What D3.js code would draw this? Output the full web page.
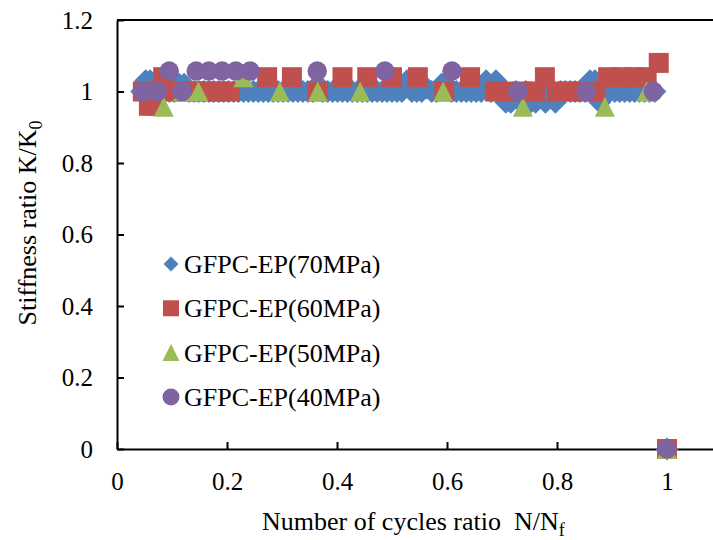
<!DOCTYPE html>
<html>
<head>
<meta charset="utf-8">
<script src="https://cdn.jsdelivr.net/npm/d3@7"></script>
<style>
  body { margin: 0; background: #fff; }
  text { font-family: "Liberation Serif", "Times New Roman", serif; fill: #000; }
</style>
</head>
<body>
<div id="chart"></div>
<script>
// data: [N/Nf, K/K0]
var gfpc70 = [
  [0.045,1.0],[0.052,1.03],[0.060,1.03],[0.068,1.0],[0.077,1.0],[0.086,1.0],[0.095,1.0],[0.104,1.0],
  [0.113,1.02],[0.122,1.02],[0.131,1.0],[0.140,1.0],[0.149,1.0],[0.158,1.0],[0.167,1.0],[0.176,1.0],
  [0.185,1.0],[0.194,1.0],[0.203,1.0],[0.212,1.0],[0.221,1.0],[0.230,1.0],[0.239,1.0],[0.248,1.0],
  [0.257,1.0],[0.266,1.0],[0.275,1.0],[0.284,1.0],[0.293,1.0],[0.302,1.0],[0.311,1.0],[0.320,1.0],
  [0.329,1.0],[0.338,1.0],[0.347,1.0],[0.356,1.0],[0.365,1.02],[0.374,1.0],[0.383,1.0],[0.392,1.0],
  [0.401,1.0],[0.410,1.0],[0.419,1.0],[0.428,1.0],[0.437,1.0],[0.446,1.0],[0.455,1.0],[0.464,1.0],
  [0.473,1.0],[0.482,1.0],[0.491,1.0],[0.500,1.0],[0.509,1.0],[0.518,1.0],[0.527,1.03],[0.536,1.0],
  [0.545,1.0],[0.554,1.0],[0.563,1.01],[0.572,1.0],[0.581,1.0],[0.590,1.02],[0.599,1.02],[0.608,1.0],
  [0.617,1.0],[0.626,1.0],[0.635,1.0],[0.644,1.0],[0.653,1.0],[0.662,1.0],[0.671,1.03],[0.680,1.0],
  [0.689,1.03],[0.698,1.0],[0.707,0.97],[0.716,0.97],[0.725,1.0],[0.734,0.97],[0.743,1.0],[0.752,0.97],
  [0.761,0.97],[0.770,1.0],[0.779,0.97],[0.788,1.0],[0.797,0.97],[0.806,1.0],[0.815,1.0],[0.824,1.0],
  [0.833,1.0],[0.842,1.0],[0.851,1.0],[0.860,1.03],[0.869,1.03],[0.878,0.97],[0.887,1.0],[0.896,1.0],
  [0.905,1.0],[0.914,1.0],[0.923,1.0],[0.932,1.0],[0.941,1.0],[0.950,1.0],[0.959,1.0],[0.968,1.0],
  [0.978,1.0],[1.0,0]
];
var gfpc60 = [
  [0.047,1.0],[0.058,0.96],[0.070,0.96],[0.084,1.04],[0.100,1.0],[0.120,1.0],[0.140,1.0],[0.155,1.0],
  [0.170,1.0],[0.188,1.0],[0.205,1.0],[0.273,1.04],[0.318,1.04],[0.365,1.0],[0.410,1.04],[0.455,1.04],
  [0.500,1.04],[0.547,1.04],[0.595,1.0],[0.642,1.04],[0.687,1.0],[0.712,1.0],[0.737,1.0],[0.760,1.0],
  [0.778,1.04],[0.800,1.0],[0.822,1.0],[0.845,1.0],[0.869,1.0],[0.893,1.04],[0.917,1.04],[0.940,1.04],
  [0.963,1.04],[0.985,1.08],[1.0,0]
];
var gfpc50 = [
  [0.085,0.957],[0.120,1.0],[0.148,1.0],[0.230,1.04],[0.296,1.0],[0.365,1.0],[0.442,1.0],[0.593,1.0],
  [0.738,0.957],[0.887,0.957],[0.963,1.0],[1.0,0]
];
var gfpc40 = [
  [0.047,1.0],[0.073,1.0],[0.095,1.057],[0.118,1.0],[0.144,1.057],[0.167,1.057],[0.191,1.057],[0.216,1.057],
  [0.242,1.057],[0.364,1.057],[0.487,1.057],[0.609,1.057],[0.729,1.0],[0.853,1.0],[0.975,1.0],[1.0,0]
];

var seriesNames = ["GFPC-EP(70MPa)", "GFPC-EP(60MPa)", "GFPC-EP(50MPa)", "GFPC-EP(40MPa)"];
var seriesColors = ["#4f81bd", "#c0504d", "#9bbb59", "#8064a2"];
var xTicks = [0, 0.2, 0.4, 0.6, 0.8, 1];
var yTicks = [0, 0.2, 0.4, 0.6, 0.8, 1, 1.2];

// excel-like marker shapes, sized by width in px
function marker(kind, w) {
  var h = w / 2;
  if (kind == "diamond") return "M0," + (-h) + "L" + h + ",0L0," + h + "L" + (-h) + ",0Z";
  if (kind == "square") return "M" + (-h) + "," + (-h) + "h" + w + "v" + w + "h" + (-w) + "Z";
  if (kind == "triangle") return "M0," + (-h) + "L" + h + "," + h + "L" + (-h) + "," + h + "Z";
  return "M" + h + ",0A" + h + "," + h + " 0 1,1 " + (-h) + ",0A" + h + "," + h + " 0 1,1 " + h + ",0Z";
}

var series = [
  {name: seriesNames[0], color: seriesColors[0], kind: "diamond", size: 23, lsize: 15, values: gfpc70},
  {name: seriesNames[1], color: seriesColors[1], kind: "square", size: 20, lsize: 16, values: gfpc60},
  {name: seriesNames[2], color: seriesColors[2], kind: "triangle", size: 20, lsize: 17, values: gfpc50},
  {name: seriesNames[3], color: seriesColors[3], kind: "circle", size: 19.5, lsize: 17, values: gfpc40}
];

var width = 713, height = 540;

var svg = d3.select("#chart")
  .append("svg")
    .attr("width", width)
    .attr("height", height);

// x axis runs past the right edge of the picture
var x = d3.scaleLinear()
  .domain([0, 1.2])
  .range([117, 777]);

var y = d3.scaleLinear()
  .domain([0, 1.2])
  .range([449, 20]);

// top border
svg.append("line")
  .attr("x1", x(0)).attr("x2", x(1.2))
  .attr("y1", y(1.2)).attr("y2", y(1.2))
  .attr("stroke", "#000").attr("stroke-width", 2);

var xAxis = svg.append("g")
  .attr("transform", "translate(0," + y(0) + ")")
  .call(d3.axisBottom(x).tickValues(xTicks).tickFormat(d3.format("~g"))
    .tickSizeInner(-7).tickSizeOuter(0).tickPadding(23));

var yAxis = svg.append("g")
  .attr("transform", "translate(" + x(0) + ",0)")
  .call(d3.axisLeft(y).tickValues(yTicks).tickFormat(d3.format("~g"))
    .tickSizeInner(-7).tickSizeOuter(0).tickPadding(24));

[xAxis, yAxis].forEach(function (g) {
  g.select(".domain").attr("stroke", "#000").attr("stroke-width", 2);
  g.selectAll(".tick line").attr("stroke", "#000").attr("stroke-width", 2);
  g.selectAll(".tick text").style("font-size", "25px").attr("fill", "#000");
});

// markers
series.forEach(function (s) {
  svg.append("g")
    .selectAll("path")
    .data(s.values)
    .enter()
    .append("path")
      .attr("d", marker(s.kind, s.size))
      .attr("transform", function (d) { return "translate(" + x(d[0]) + "," + y(d[1]) + ")"; })
      .style("fill", s.color);
});

// legend
var legend = svg.append("g");
series.forEach(function (s, i) {
  var ly = 264 + i * 44.3;
  legend.append("path")
    .attr("d", marker(s.kind, s.lsize))
    .attr("transform", "translate(171," + ly + ")")
    .style("fill", s.color);
  legend.append("text")
    .attr("x", 184)
    .attr("y", ly + 9)
    .style("font-size", "26px")
    .text(s.name);
});

// axis titles
var xt = svg.append("text")
  .attr("x", 262)
  .attr("y", 530)
  .style("font-size", "26px");
xt.append("tspan").text("Number of cycles ratio \u00a0N/N");
xt.append("tspan").attr("dy", 6).style("font-size", "18px").text("f");

var yt = svg.append("text")
  .attr("transform", "translate(36,223) rotate(-90)")
  .attr("text-anchor", "middle")
  .style("font-size", "26px");
yt.append("tspan").text("Stiffness ratio K/K");
yt.append("tspan").attr("dy", 6).style("font-size", "18px").text("0");
</script>
</body>
</html>
